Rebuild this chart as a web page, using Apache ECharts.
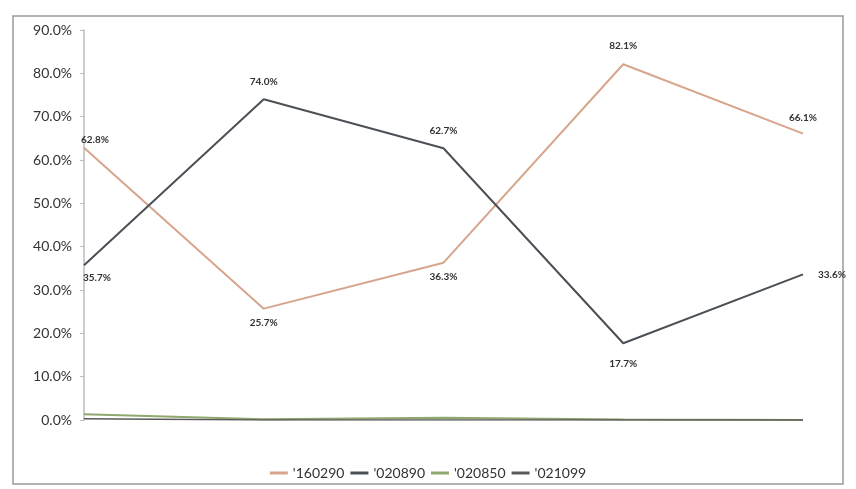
<!DOCTYPE html>
<html><head><meta charset="utf-8">
<script src="https://cdn.jsdelivr.net/npm/echarts@6/dist/echarts.min.js"></script>
<style>html,body{margin:0;padding:0;background:#fff}#c{width:856px;height:489px}</style>
</head><body><div id="c"></div>
<script>
const categories = ['1','2','3','4','5'];
const s160290 = [62.8, 25.7, 36.3, 82.1, 66.1];
const s020890 = [35.7, 74.0, 62.7, 17.7, 33.6];
const s020850 = [1.3, 0.2, 0.5, 0.1, 0.0];
const s021099 = [0.3, 0.0, 0.0, 0.0, 0.0];
const yTicks = [0,10,20,30,40,50,60,70,80,90];

function mk(vals, pos, offs){
  return vals.map((v,i)=>({value:v, label:{position:pos[i], offset:offs[i]}}));
}
const chart = echarts.init(document.getElementById('c'));
const lblStyle = {show:true, formatter:p=>p.value.toFixed(1)+'%', fontSize:10, fontWeight:'bold', color:'#333', fontFamily:'Lato, sans-serif'};
chart.setOption({
  animation:false,
  graphic:[{type:'rect', shape:{x:13,y:16,width:830,height:468}, style:{fill:'none', stroke:'#9a9a9a', lineWidth:1.5}}],
  grid:{left:84,right:53,top:30,bottom:69},
  legend:{bottom:4,left:'center',itemWidth:18,itemHeight:3,itemGap:6,icon:'rect',
    textStyle:{fontSize:14,color:'#333',fontFamily:'Lato, sans-serif'},
    data:["'160290","'020890","'020850","'021099"]},
  xAxis:{type:'category',data:categories,boundaryGap:false,
    axisLine:{show:false},axisTick:{show:false},axisLabel:{show:false}},
  yAxis:{type:'value',min:0,max:90,interval:10,
    axisLine:{show:true,lineStyle:{color:'#bbb',width:1.5}},
    axisTick:{show:true,length:4,lineStyle:{color:'#bbb'}},
    splitLine:{show:false},
    axisLabel:{fontSize:14,color:'#333',margin:12,fontFamily:'Lato, sans-serif',
      formatter:v=>yTicks.includes(v)?v.toFixed(1)+'%':''}},
  series:[
    {name:"'160290",type:'line',symbol:'circle',symbolSize:0.01,lineStyle:{color:'#d7a58c',width:2},itemStyle:{color:'#d7a58c'},
      label:lblStyle, data:mk(s160290,['right','bottom','bottom','top','top'],[[-8,-8],[0,4],[0,4],[0,-8],[0,-6]])},
    {name:"'020890",type:'line',symbol:'circle',symbolSize:0.01,lineStyle:{color:'#4b5056',width:2},itemStyle:{color:'#4b5056'},
      label:lblStyle, data:mk(s020890,['right','top','top','bottom','right'],[[-6,12],[0,-8],[0,-8],[0,10],[10,0]])},
    {name:"'020850",type:'line',symbol:'none',lineStyle:{color:'#8ea86e',width:2},itemStyle:{color:'#8ea86e'},data:s020850},
    {name:"'021099",type:'line',symbol:'none',lineStyle:{color:'#5a5a5a',width:1.5},itemStyle:{color:'#5a5a5a'},data:s021099}
  ]
});
</script></body></html>
